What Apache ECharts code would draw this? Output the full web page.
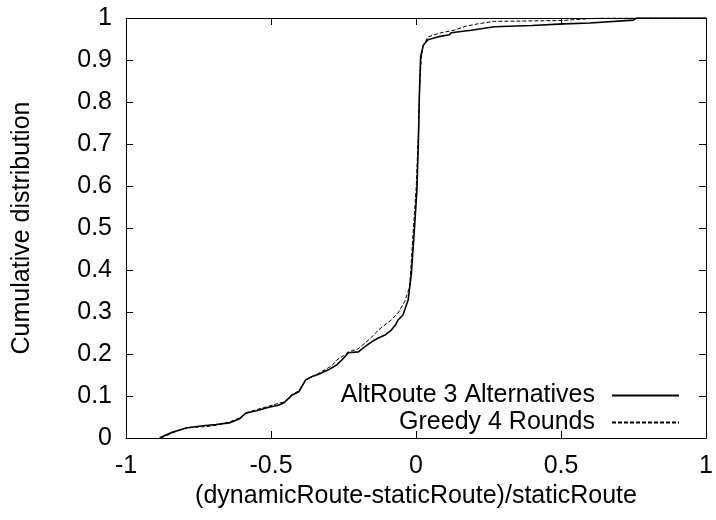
<!DOCTYPE html>
<html>
<head>
<meta charset="utf-8">
<script src="https://cdn.jsdelivr.net/npm/echarts@6/dist/echarts.min.js"></script>
<style>html,body{margin:0;padding:0;background:#fff}#c{width:716px;height:520px}</style>
</head>
<body>
<div id="c"></div>
<script>
const seriesNames = ['AltRoute 3 Alternatives', 'Greedy 4 Rounds'];
const altX = [-0.884,-0.87,-0.843,-0.81,-0.792,-0.735,-0.69,-0.644,-0.61,-0.587,-0.55,-0.507,-0.475,-0.455,-0.427,-0.404,-0.381,-0.36,-0.336,-0.30,-0.273,-0.25,-0.233,-0.199,-0.175,-0.153,-0.13,-0.107,-0.085,-0.07,-0.062,-0.045,-0.027,-0.024,-0.016,-0.005,0.003,0.009,0.011,0.014,0.016,0.025,0.041,0.075,0.115,0.121,0.19,0.27,0.4,0.509,0.6,0.749,0.76,1.0];
const altY = [0,0.005,0.013,0.02,0.024,0.029,0.032,0.036,0.045,0.059,0.065,0.073,0.078,0.084,0.102,0.110,0.138,0.146,0.152,0.163,0.174,0.19,0.203,0.205,0.218,0.229,0.238,0.245,0.257,0.27,0.281,0.293,0.329,0.331,0.392,0.503,0.590,0.725,0.805,0.87,0.908,0.935,0.948,0.955,0.960,0.965,0.971,0.979,0.982,0.986,0.988,0.995,1.0,1.0];
const greedyX = [-0.88,-0.84,-0.79,-0.724,-0.69,-0.644,-0.6,-0.587,-0.507,-0.455,-0.427,-0.404,-0.381,-0.336,-0.29,-0.273,-0.25,-0.233,-0.2,-0.153,-0.13,-0.085,-0.06,-0.039,-0.022,-0.016,-0.007,0.001,0.008,0.012,0.016,0.018,0.024,0.041,0.087,0.132,0.17,0.212,0.27,0.503,0.634,1.0];
const greedyY = [0,0.012,0.025,0.027,0.03,0.038,0.05,0.06,0.076,0.086,0.104,0.112,0.138,0.154,0.172,0.186,0.196,0.205,0.212,0.240,0.257,0.281,0.300,0.325,0.360,0.424,0.52,0.6,0.73,0.82,0.88,0.904,0.932,0.955,0.965,0.971,0.98,0.986,0.992,0.994,1.0,1.0];
const xTitle = '(dynamicRoute-staticRoute)/staticRoute';
const yTitle = 'Cumulative distribution';

const FONT = 'Liberation Sans';
const FS = 25;
const zip = (xs, ys) => xs.map((x, i) => [x, ys[i]]);

const axisCommon = {
  axisLine: {show: true, onZero: false, lineStyle: {color: '#000', width: 1}},
  axisTick: {show: true, inside: true, length: 7, lineStyle: {color: '#000', width: 1}},
  splitLine: {show: false}
};

const chart = echarts.init(document.getElementById('c'), null, {renderer: 'canvas'});
chart.setOption({
  animation: false,
  backgroundColor: '#fff',
  grid: {left: 126, right: 6, top: 18, bottom: 82, containLabel: false},
  legend: {
    right: 31, top: 378, orient: 'vertical', align: 'right',
    itemWidth: 67, itemHeight: 14, itemGap: 2,
    itemStyle: {opacity: 0},
    textStyle: {fontFamily: FONT, fontSize: FS, color: '#000', lineHeight: 24, padding: [0, 12, 0, 0]},
    data: seriesNames
  },
  xAxis: [
    Object.assign({type: 'value', min: -1, max: 1, interval: 0.5, position: 'bottom',
      name: xTitle, nameLocation: 'middle', nameGap: 45,
      nameTextStyle: {fontFamily: FONT, fontSize: FS, color: '#000'},
      axisLabel: {fontFamily: FONT, fontSize: FS, color: '#000', margin: 16}}, axisCommon),
    Object.assign({type: 'value', min: -1, max: 1, interval: 0.5, position: 'top',
      axisLabel: {show: false}}, axisCommon)
  ],
  yAxis: [
    Object.assign({type: 'value', min: 0, max: 1, interval: 0.1, position: 'left',
      name: yTitle, nameLocation: 'middle', nameGap: 91,
      nameTextStyle: {fontFamily: FONT, fontSize: FS, color: '#000'},
      axisLabel: {fontFamily: FONT, fontSize: FS, color: '#000', margin: 14}}, axisCommon),
    Object.assign({type: 'value', min: 0, max: 1, interval: 0.1, position: 'right',
      axisLabel: {show: false}}, axisCommon)
  ],
  series: [
    {name: seriesNames[0], type: 'line', data: zip(altX, altY), symbol: 'none',
      lineStyle: {color: '#000', width: 1.6, type: 'solid'}, itemStyle: {color: '#000'}},
    {name: seriesNames[1], type: 'line', data: zip(greedyX, greedyY), symbol: 'none',
      lineStyle: {color: '#000', width: 1, type: [4, 2]}, itemStyle: {color: '#000'}}
  ]
});
</script>
</body>
</html>
